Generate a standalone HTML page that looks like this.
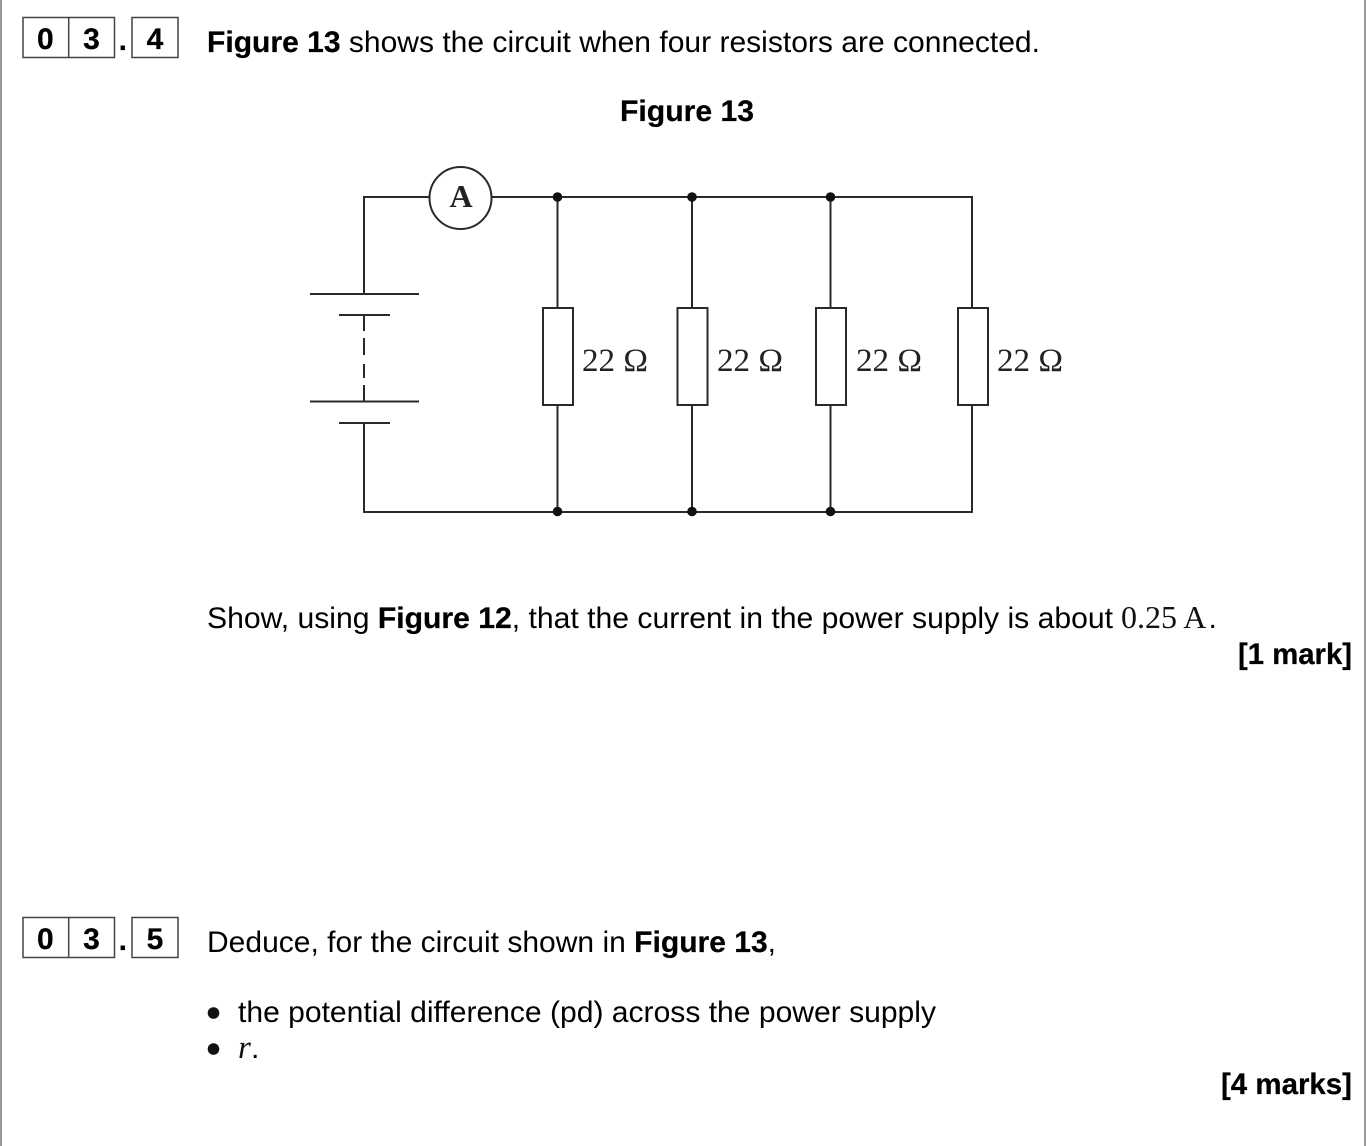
<!DOCTYPE html>
<html><head><meta charset="utf-8"><style>
html,body{margin:0;padding:0;background:#fff;width:1366px;height:1146px;overflow:hidden}
svg{display:block}
text{font-family:"Liberation Sans",sans-serif;font-size:30px;fill:#000}
.b{font-weight:bold;stroke:#000;stroke-width:.25}
.s{font-family:"Liberation Serif",serif;font-size:32px;fill:#111}
.l{fill:none;stroke:#2a2a2a;stroke-width:2}
.r{font-family:"Liberation Serif",serif;font-size:33px;fill:#222}
</style></head><body>
<svg width="1366" height="1146" viewBox="0 0 1366 1146" xmlns="http://www.w3.org/2000/svg">
<rect x="0" y="0" width="2" height="1146" fill="#9a9a9a"/>
<rect x="1364" y="0" width="2" height="1146" fill="#9a9a9a"/>
<!-- Question boxes -->
<g fill="none" stroke="#444" stroke-width="1.5">
<rect x="23" y="17.500" width="91.500" height="40"/><line x1="68.700" y1="17.500" x2="68.700" y2="57.500"/><rect x="132" y="17.500" width="46" height="40"/>
<rect x="23" y="917.500" width="91.500" height="40"/><line x1="68.700" y1="917.500" x2="68.700" y2="957.500"/><rect x="132" y="917.500" width="46" height="40"/>
</g>
<text x="45.300" y="49" class="b" text-anchor="middle">0</text><text x="91.500" y="49" class="b" text-anchor="middle">3</text><text x="122.800" y="50" class="b" text-anchor="middle">.</text><text x="155" y="49" class="b" text-anchor="middle">4</text>
<text x="45.300" y="949" class="b" text-anchor="middle">0</text><text x="91.500" y="949" class="b" text-anchor="middle">3</text><text x="122.800" y="950" class="b" text-anchor="middle">.</text><text x="155" y="949" class="b" text-anchor="middle">5</text>
<text x="207" y="52" textLength="833" lengthAdjust="spacingAndGlyphs"><tspan class="b">Figure 13</tspan> shows the circuit when four resistors are connected.</text>
<text x="620" y="121" class="b" textLength="134" lengthAdjust="spacingAndGlyphs">Figure 13</text>
<!-- Circuit -->
<path class="l" d="M364 294V197H430M492 197H972V308M364 423V512H972V405"/>
<path class="l" d="M557.500 197V308M557.500 405V511M692 197V308M692 405V511M830.500 197V308M830.500 405V511"/>
<circle class="l" cx="460.500" cy="198" r="31"/>
<text x="461" y="207" text-anchor="middle" style="font-family:'Liberation Serif',serif;font-weight:bold;font-size:32px;fill:#222">A</text>
<path class="l" d="M310 294H419M339 315H390M310 401.500H419M339 423H390"/>
<path class="l" d="M364 315V331M364 338V355M364 364V378M364 385V401"/>
<g class="l">
<rect x="543" y="308" width="30" height="97" fill="#fff" style="fill:#fff"/><rect x="677.500" y="308" width="30" height="97" style="fill:#fff"/><rect x="816" y="308" width="30" height="97" style="fill:#fff"/><rect x="958" y="308" width="30" height="97" style="fill:#fff"/>
</g>
<g fill="#111">
<circle cx="557.500" cy="197" r="4.800"/><circle cx="692" cy="197" r="4.800"/><circle cx="830.500" cy="197" r="4.800"/>
<circle cx="557.500" cy="511.500" r="4.800"/><circle cx="692" cy="511.500" r="4.800"/><circle cx="830.500" cy="511.500" r="4.800"/>
</g>
<text class="r" x="582" y="371" textLength="66" lengthAdjust="spacingAndGlyphs">22 Ω</text>
<text class="r" x="717" y="371" textLength="66" lengthAdjust="spacingAndGlyphs">22 Ω</text>
<text class="r" x="856" y="371" textLength="66" lengthAdjust="spacingAndGlyphs">22 Ω</text>
<text class="r" x="997" y="371" textLength="66" lengthAdjust="spacingAndGlyphs">22 Ω</text>
<!-- Text -->
<text x="207" y="628" textLength="906" lengthAdjust="spacingAndGlyphs">Show, using <tspan class="b">Figure 12</tspan>, that the current in the power supply is about</text>
<text class="s" x="1121" y="628">0.25 A</text>
<text x="1208.500" y="628">.</text>
<text x="1238" y="664" class="b" textLength="114" lengthAdjust="spacingAndGlyphs">[1 mark]</text>
<text x="207" y="952" textLength="569" lengthAdjust="spacingAndGlyphs">Deduce, for the circuit shown in <tspan class="b">Figure 13</tspan>,</text>
<circle cx="213.500" cy="1013" r="5.800" fill="#111"/>
<circle cx="213.500" cy="1049" r="5.800" fill="#111"/>
<text x="238" y="1022" textLength="698" lengthAdjust="spacingAndGlyphs">the potential difference (pd) across the power supply</text>
<text x="238" y="1058" class="s" font-style="italic" style="font-size:33px;font-style:italic">r</text>
<text x="251" y="1058">.</text>
<text x="1221" y="1094" class="b" textLength="131" lengthAdjust="spacingAndGlyphs">[4 marks]</text>
</svg>
</body></html>
